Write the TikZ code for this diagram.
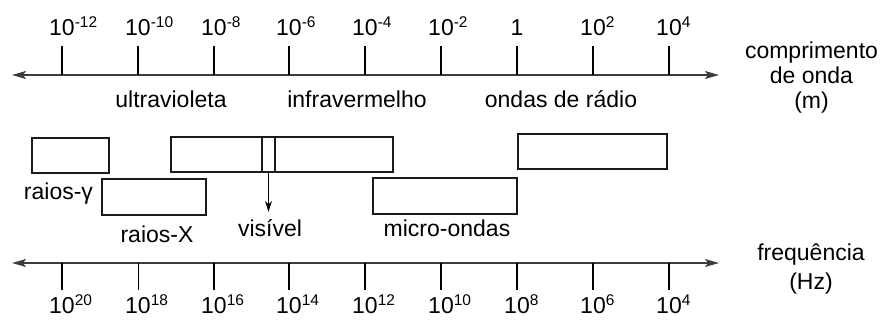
\documentclass[tikz,border=0pt]{standalone}
\usepackage{fontspec}
\setmainfont{Liberation Sans}
\usetikzlibrary{arrows.meta}
\definecolor{ScaleInk}{HTML}{1A1A1A}
\definecolor{AxisGrey}{HTML}{3C3C3C}
\newcommand{\tenpow}[1]{10\rlap{\raisebox{7.5pt}{\fontsize{15.5}{15.5}\selectfont #1}}}
\tikzset{
  scaleaxis/.style={{Stealth[length=14pt,width=8pt,inset=3pt]}-{Stealth[length=14pt,width=8pt,inset=3pt]}, line width=1.4pt, draw=AxisGrey},
  scaletick/.style={line width=2pt, draw=black},
  thintick/.style={line width=1pt, draw=black},
  band/.style={draw=ScaleInk, line width=1.2pt, inner sep=0pt, outer sep=0pt, minimum height=35pt},
  wordtag/.style={anchor=base, inner sep=0pt},
  pointer/.style={-{Stealth[length=11pt,width=7pt]}, line width=1pt, draw=black, shorten >=7pt},
}

\begin{document}
\begin{tikzpicture}[x=1pt, y=-1pt, font=\fontsize{23}{25}\selectfont]
  \useasboundingbox (0,0) rectangle (884,322);
  % wavelength scale
  \coordinate (wl-min) at (12,75);
  \coordinate (wl-max) at (719,75);
  \draw[scaleaxis] (wl-min) -- (wl-max);
  \foreach \x/\lab [count=\i] in {62/\tenpow{-12},138/\tenpow{-10},214/\tenpow{-8},289/\tenpow{-6},365/\tenpow{-4},441/\tenpow{-2},517/1,593/\tenpow{2},669/\tenpow{4}} {
    \coordinate (wt\i) at (\x,75);
    \draw[scaletick] (wt\i) -- ++(0,-29);
    \node[wordtag] (wl\i) at (\x,35) {\lab};
  }
  \node[wordtag] (uv) at (171,107) {ultravioleta};
  \node[wordtag] (ir) at (357,107) {infravermelho};
  \node[wordtag] (rw) at (561,107) {ondas de rádio};
  \node[align=center, anchor=north, inner sep=0pt] (wl-name) at (811.5,42) {comprimento\\de onda\\(m)};

  % bands
  \node[band, minimum width=77pt] (gamma) at (70.5,155.5) {};
  \node[band, minimum width=104pt, minimum height=36pt] (xray) at (154,197) {};
  \node[band, minimum width=222pt] (optic) at (282,154.5) {};
  \node[band, minimum width=13pt] (vis) at (268.5,154.5) {};
  \node[band, minimum width=144pt, minimum height=36pt] (micro) at (445,196) {};
  \node[band, minimum width=149pt] (radio) at (592.5,151.5) {};
  \node[wordtag] (gamma-lab) at (58.5,199) {raios-γ};
  \node[wordtag] (xray-lab) at (157,242) {raios-X};
  \node[wordtag] (vis-lab) at (270,236) {visível};
  \node[wordtag] (micro-lab) at (447,236) {micro-ondas};
  \draw[pointer] (vis.south) -- (vis.south |- vis-lab.north);

  % frequency scale
  \coordinate (fq-min) at (12,263);
  \coordinate (fq-max) at (719,263);
  \draw[scaleaxis] (fq-min) -- (fq-max);
  \foreach \x/\e/\sty [count=\i] in {62/20/scaletick,138/18/thintick,214/16/scaletick,289/14/scaletick,365/12/scaletick,441/10/scaletick,517/8/scaletick,593/6/scaletick,669/4/scaletick} {
    \coordinate (ft\i) at (\x,263);
    \draw[\sty] (ft\i) -- ++(0,27);
    \node[wordtag] (fq\i) at (\x,313) {\tenpow{\e}};
  }
  \node[align=center, anchor=north, inner sep=0pt] (fq-name) at (811,244) {frequência\\[4pt](Hz)};
\end{tikzpicture}
\end{document}
